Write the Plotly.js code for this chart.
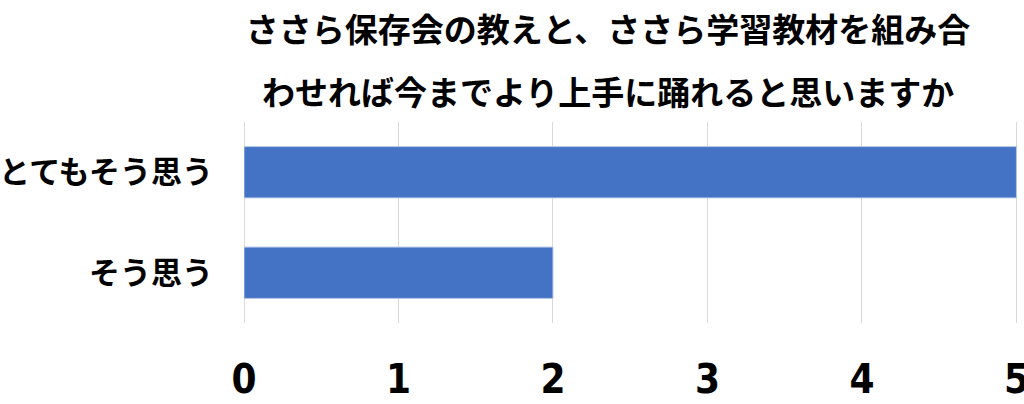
<!DOCTYPE html>
<html>
<head>
<meta charset="utf-8">
<script src="https://cdn.plot.ly/plotly-3.0.1.min.js"></script>
<style>html,body{margin:0;padding:0;background:#fff;}#chart{width:1024px;height:404px;}</style>
</head>
<body>
<div id="chart"></div>
<script>
const categories = ["とてもそう思う", "そう思う"];
const values = [5, 2];
const tickValues = [0, 1, 2, 3, 4, 5];
const titleLine1 = "ささら保存会の教えと、ささら学習教材を組み合";
const titleLine2 = "わせれば今までより上手に踊れると思いますか";

const jpFont = '"Noto Sans CJK JP", "Noto Sans", sans-serif';

const data = [{
  type: "bar",
  orientation: "h",
  y: categories,
  x: values,
  marker: {color: "#4472C4", line: {color: "#b4c7e7", width: 1}},
  hoverinfo: "none"
}];

const layout = {
  width: 1024,
  height: 404,
  margin: {l: 244, r: 6, t: 122, b: 81},
  paper_bgcolor: "#ffffff",
  plot_bgcolor: "#ffffff",
  showlegend: false,
  bargap: 0.49,
  title: {
    text: titleLine1,
    x: 608 / 1024,
    xanchor: "center",
    xref: "container",
    y: 1 - 30 / 404,
    yanchor: "middle",
    yref: "container",
    font: {family: jpFont, size: 33, color: "#000000", weight: 700}
  },
  annotations: [{
    text: titleLine2,
    showarrow: false,
    xref: "paper",
    yref: "paper",
    x: (608 - 244) / 774,
    xanchor: "center",
    y: 1 + (122 - 91) / 201,
    yanchor: "middle",
    font: {family: jpFont, size: 33, color: "#000000", weight: 700}
  }],
  xaxis: {
    range: [0, 5.01],
    automargin: false,
    tickvals: tickValues,
    ticktext: tickValues.map(String),
    ticklabeloverflow: "allow",
    showgrid: true,
    gridcolor: "#d9d9d9",
    gridwidth: 1,
    zeroline: true,
    zerolinecolor: "#d9d9d9",
    zerolinewidth: 1,
    showline: false,
    ticks: "",
    ticklabelstandoff: 29,
    tickfont: {family: '"DejaVu Sans Condensed", "Liberation Sans Narrow", sans-serif', size: 40, color: "#000000", weight: 700},
    fixedrange: true
  },
  yaxis: {
    type: "category",
    autorange: "reversed",
    automargin: false,
    showgrid: false,
    zeroline: false,
    showline: false,
    ticks: "",
    ticklabelstandoff: 30,
    tickfont: {family: jpFont, size: 31, color: "#000000", weight: 700},
    fixedrange: true
  }
};

Plotly.newPlot("chart", data, layout, {displayModeBar: false, staticPlot: true});
</script>
</body>
</html>
